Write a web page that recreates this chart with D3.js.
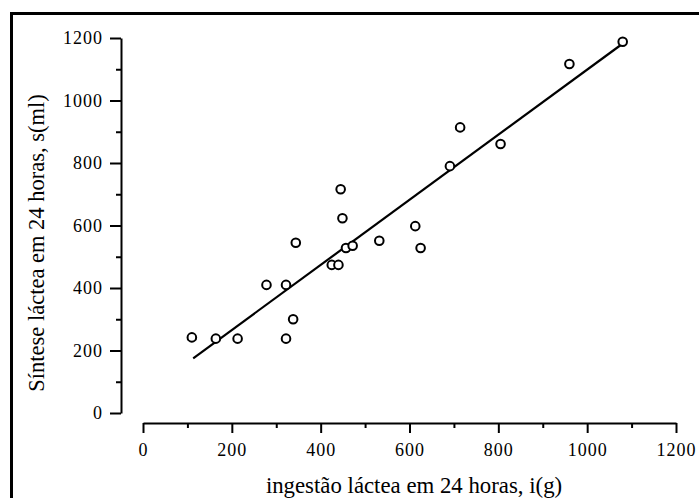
<!DOCTYPE html>
<html>
<head>
<meta charset="utf-8">
<script src="https://cdn.jsdelivr.net/npm/d3@7"></script>
<style>
  body { margin: 0; background: #fff; }
  svg { display: block; }
</style>
</head>
<body>
<div id="container"></div>
<script>
// ingestão (g) vs síntese (ml)
let ingestao = [110, 164, 213, 278, 322, 344, 338, 322, 425, 440, 445, 449, 457, 472, 532, 613, 625, 691, 714, 805, 960, 1080];
let sintese  = [242, 238, 238, 410, 410, 545, 300, 238, 474, 474, 716, 623, 528, 535, 551, 598, 528, 790, 914, 861, 1117, 1188];

// fitted line, start and end
let fitX = [113, 1078];
let fitY = [175, 1180];

let xTicks = [0, 200, 400, 600, 800, 1000, 1200];
let yTicks = [0, 200, 400, 600, 800, 1000, 1200];
let xMinor = [100, 300, 500, 700, 900, 1100];
let yMinor = [100, 300, 500, 700, 900, 1100];

let w = 699;
let h = 498;

let viz = d3.select("#container")
  .append("svg")
  .attr("width", w)
  .attr("height", h)
  .style("background-color", "#fff");

// frame (right and bottom run off the picture)
viz.append("path")
  .attr("d", `M11.5,${h + 5} L11.5,13.5 L${w + 5},13.5`)
  .attr("fill", "none")
  .attr("stroke", "#000")
  .attr("stroke-width", 3);

let xScale = d3.scaleLinear().domain([0, 1200]).range([143, 676]);
let yScale = d3.scaleLinear().domain([0, 1200]).range([413, 38]);

let tickFont = "'Liberation Serif', 'Times New Roman', serif";

// y axis
viz.append("g")
  .attr("transform", "translate(121,0)")
  .call(d3.axisLeft(yScale).tickValues(yTicks).tickFormat(d3.format("d"))
    .tickSize(11).tickPadding(7).tickSizeOuter(0));
viz.append("g")
  .attr("transform", "translate(121,0)")
  .call(d3.axisLeft(yScale).tickValues(yMinor).tickSize(5).tickFormat("").tickSizeOuter(0))
  .select(".domain").remove();

// x axis
viz.append("g")
  .attr("transform", "translate(0,423)")
  .call(d3.axisBottom(xScale).tickValues(xTicks).tickFormat(d3.format("d"))
    .tickSize(10).tickPadding(10).tickSizeOuter(0));
viz.append("g")
  .attr("transform", "translate(0,423)")
  .call(d3.axisBottom(xScale).tickValues(xMinor).tickSize(5).tickFormat("").tickSizeOuter(0))
  .select(".domain").remove();

viz.selectAll(".domain, .tick line")
  .attr("stroke", "#000")
  .attr("stroke-width", 2);

viz.selectAll(".tick text")
  .attr("fill", "#000")
  .style("font-family", tickFont)
  .style("font-size", "18px")
  .style("letter-spacing", "1px");

// regression line
viz.append("line")
  .attr("x1", xScale(fitX[0]))
  .attr("y1", yScale(fitY[0]))
  .attr("x2", xScale(fitX[1]))
  .attr("y2", yScale(fitY[1]))
  .attr("stroke", "#000")
  .attr("stroke-width", 2.2);

// points
let points = ingestao.map((d, i) => ({x: d, y: sintese[i]}));
viz.selectAll(".pt")
  .data(points)
  .enter()
  .append("circle")
  .attr("class", "pt")
  .attr("cx", d => xScale(d.x))
  .attr("cy", d => yScale(d.y))
  .attr("r", 4.3)
  .attr("fill", "#fff")
  .attr("stroke", "#000")
  .attr("stroke-width", 2);

// axis titles
viz.append("text")
  .attr("x", 414)
  .attr("y", 493)
  .attr("text-anchor", "middle")
  .style("font-family", tickFont)
  .style("font-size", "22.8px")
  .text("ingestão láctea em 24 horas, i(g)");

viz.append("text")
  .attr("transform", "translate(44,243) rotate(-90)")
  .attr("text-anchor", "middle")
  .style("font-family", tickFont)
  .style("font-size", "22.5px")
  .text("Síntese láctea em 24 horas, s(ml)");
</script>
</body>
</html>
